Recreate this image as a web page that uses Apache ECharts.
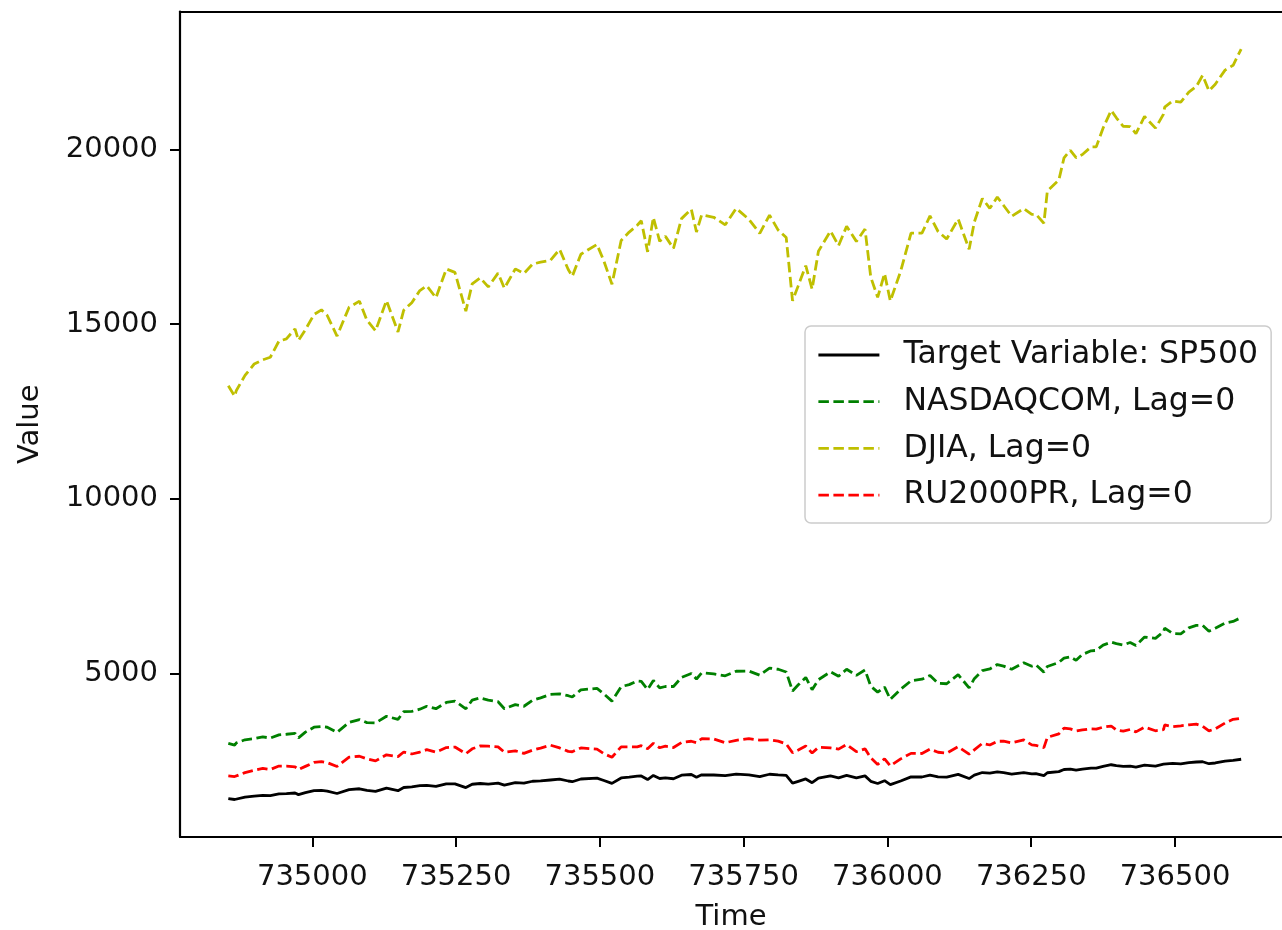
<!DOCTYPE html>
<html>
<head>
<meta charset="utf-8">
<script src="https://cdn.jsdelivr.net/npm/echarts@6/dist/echarts.min.js"></script>
<style>
  html, body { margin: 0; padding: 0; background: #ffffff; }
  #chart { width: 1282px; height: 930px; }
</style>
</head>
<body>
<div id="chart"></div>
<script>
// Time axis: day ordinals (days since 0001-01-01), Dec 2012 .. Oct 2017
const dates = [
  734854, 734865, 734868, 734883, 734899, 734914, 734927, 734942, 734955, 734970,
  734976, 734988, 735003, 735016, 735026, 735043, 735064, 735082, 735095, 735110,
  735129, 735149, 735159, 735173, 735187, 735199, 735215, 735233, 735248, 735267,
  735278, 735292, 735306, 735323, 735334, 735353, 735368, 735383, 735397, 735414,
  735430, 735445, 735452, 735467, 735495, 735507, 735521, 735537, 735551, 735565,
  735572, 735583, 735593, 735604, 735614, 735628, 735642, 735659, 735668, 735677,
  735698, 735718, 735737, 735759, 735778, 735795, 735810, 735824, 735835, 735845,
  735858, 735869, 735880, 735901, 735915, 735929, 735946, 735961, 735971, 735983,
  735995, 736005, 736023, 736041, 736060, 736074, 736088, 736103, 736123, 736142,
  736151, 736165, 736178, 736191, 736202, 736216, 736237, 736251, 736258, 736272,
  736278, 736298, 736307, 736318, 736328, 736339, 736354, 736363, 736375, 736389,
  736398, 736410, 736422, 736432, 736447, 736466, 736480, 736482, 736496, 736510,
  736524, 736537, 736548, 736559, 736570, 736587, 736601, 736615
];

const sp500 = [
  1430, 1402, 1426, 1472, 1498, 1520, 1515, 1561, 1569, 1588,
  1541, 1597, 1658, 1660, 1643, 1573, 1682, 1709, 1661, 1633,
  1725, 1655, 1745, 1762, 1798, 1807, 1775, 1848, 1848, 1742,
  1838, 1859, 1841, 1872, 1815, 1884, 1870, 1924, 1936, 1960,
  1982, 1931, 1910, 1988, 2011, 1946, 1862, 2018, 2040, 2068,
  2075, 1973, 2089, 2003, 2019, 1995, 2097, 2117, 2040, 2108,
  2102, 2086, 2127, 2105, 2058, 2124, 2104, 2092, 1868, 1921,
  1990, 1882, 2015, 2079, 2023, 2090, 2022, 2078, 1922, 1859,
  1940, 1829, 1932, 2049, 2045, 2102, 2051, 2040, 2119, 2001,
  2100, 2173, 2157, 2190, 2169, 2128, 2168, 2133, 2141, 2085,
  2167, 2199, 2260, 2270, 2239, 2269, 2298, 2297, 2349, 2396,
  2372, 2348, 2358, 2329, 2384, 2357, 2412, 2439, 2433, 2423,
  2459, 2475, 2481, 2425, 2446, 2500, 2519, 2553
];

const nasdaq = [
  3010, 2960, 3020, 3110, 3142, 3192, 3160, 3249, 3268, 3294,
  3166, 3329, 3471, 3488, 3469, 3320, 3607, 3689, 3602, 3590,
  3783, 3694, 3914, 3922, 3985, 4069, 4000, 4177, 4215, 3997,
  4244, 4308, 4246, 4199, 3999, 4115, 4069, 4243, 4311, 4408,
  4425, 4370, 4334, 4539, 4580, 4423, 4215, 4631, 4688, 4792,
  4781, 4547, 4807, 4593, 4634, 4635, 4893, 5008, 4849, 5026,
  4996, 4941, 5070, 5076, 4958, 5163, 5128, 5048, 4506, 4683,
  4893, 4543, 4830, 5054, 4927, 5127, 4952, 5107, 4644, 4472,
  4620, 4267, 4558, 4796, 4843, 4948, 4725, 4713, 4974, 4594,
  4859, 5089, 5137, 5262, 5218, 5126, 5312, 5214, 5257, 5046,
  5208, 5323, 5445, 5483, 5383, 5551, 5656, 5666, 5819, 5904,
  5861, 5821, 5894, 5805, 6048, 6011, 6199, 6306, 6151, 6140,
  6312, 6382, 6383, 6217, 6302, 6448, 6496, 6606
];

const djia = [
  13235, 12938, 13104, 13534, 13860, 13981, 14054, 14514, 14578, 14865,
  14537, 14840, 15275, 15409, 15248, 14660, 15484, 15658, 15112, 14810,
  15676, 14776, 15400, 15615, 15961, 16097, 15755, 16577, 16481, 15373,
  16154, 16322, 16066, 16458, 16027, 16581, 16447, 16717, 16776, 16827,
  17138, 16563, 16368, 17001, 17280, 16804, 16142, 17391, 17634, 17828,
  17958, 17068, 18053, 17371, 17511, 17165, 18019, 18288, 17635, 18128,
  18057, 17841, 18312, 18000, 17596, 18120, 17690, 17477, 15666, 16102,
  16674, 16001, 17084, 17664, 17245, 17798, 17368, 17720, 16346, 15766,
  16449, 15660, 16516, 17602, 17603, 18096, 17651, 17435, 18005, 17140,
  17918, 18595, 18313, 18636, 18395, 18085, 18308, 18138, 18145, 17888,
  18807, 19124, 19757, 19974, 19763, 19855, 20069, 20071, 20612, 21116,
  20903, 20661, 20650, 20453, 20941, 20607, 21009, 21206, 21384, 21350,
  21638, 21797, 22118, 21675, 21865, 22268, 22405, 22871
];

const ru2000 = [
  2078, 2058, 2106, 2172, 2237, 2292, 2259, 2358, 2358, 2336,
  2257, 2349, 2463, 2487, 2455, 2346, 2611, 2639, 2567, 2507,
  2681, 2629, 2760, 2703, 2760, 2827, 2758, 2887, 2902, 2711,
  2852, 2934, 2926, 2909, 2755, 2795, 2721, 2812, 2874, 2956,
  2877, 2778, 2768, 2877, 2842, 2711, 2611, 2909, 2909, 2909,
  2941, 2854, 3008, 2882, 2926, 2889, 3033, 3068, 3026, 3140,
  3135, 3026, 3095, 3145, 3098, 3110, 3070, 2993, 2738, 2817,
  2931, 2730, 2894, 2879, 2842, 2974, 2768, 2852, 2594, 2406,
  2567, 2363, 2564, 2721, 2718, 2842, 2753, 2730, 2912, 2701,
  2822, 3008, 2961, 3068, 3070, 3023, 3105, 2964, 2951, 2887,
  3179, 3279, 3445, 3422, 3365, 3393, 3422, 3415, 3472, 3504,
  3388, 3355, 3405, 3336, 3472, 3368, 3398, 3534, 3487, 3509,
  3539, 3556, 3499, 3365, 3422, 3589, 3695, 3727
];

const xTicks = [735000, 735250, 735500, 735750, 736000, 736250, 736500];
const yTicks = [5000, 10000, 15000, 20000];

const names = {
  sp500: 'Target Variable: SP500',
  nasdaq: 'NASDAQCOM, Lag=0',
  djia: 'DJIA, Lag=0',
  ru2000: 'RU2000PR, Lag=0'
};

const FONT = 'DejaVu Sans';
const FS = 29;
const LEGEND_FS = 31.5;
const INK = '#111111';
const DASH = [10.5, 4.5];
const SPINE = { color: '#000000', width: 2.2 };

function pairs(values) {
  return dates.map((d, i) => [d, values[i]]);
}

function lineSeries(name, values, color, dashed, z) {
  return {
    name: name,
    type: 'line',
    data: pairs(values),
    symbol: 'none',
    showSymbol: false,
    smooth: false,
    z: z,
    lineStyle: { color: color, width: 2.8, type: dashed ? DASH : 'solid' },
    itemStyle: { color: color },
    emphasis: { disabled: true }
  };
}

const chart = echarts.init(document.getElementById('chart'), null, { renderer: 'canvas' });

chart.setOption({
  animation: false,
  backgroundColor: '#ffffff',
  grid: {
    show: false,
    left: 180,
    top: 11.5,
    right: 0,
    height: 825.5,
    outerBoundsMode: 'none',
    containLabel: false
  },
  xAxis: [
    {
      type: 'value',
      position: 'bottom',
      min: 734770,
      max: 736686,
      name: 'Time',
      nameLocation: 'middle',
      nameGap: 66,
      nameTextStyle: { fontFamily: FONT, fontSize: FS, color: INK },
      axisLine: { show: true, onZero: false, lineStyle: SPINE },
      axisTick: { show: true, inside: false, length: 10, customValues: xTicks, lineStyle: { color: '#000000', width: 2 } },
      axisLabel: { customValues: xTicks, margin: 26, fontFamily: FONT, fontSize: FS, color: INK, formatter: v => String(v) },
      splitLine: { show: false }
    },
    {
      // top spine of the frame
      type: 'value',
      position: 'top',
      min: 734770,
      max: 736686,
      axisLine: { show: true, onZero: false, lineStyle: SPINE },
      axisTick: { show: false },
      axisLabel: { show: false },
      splitLine: { show: false }
    }
  ],
  yAxis: {
    type: 'value',
    min: 329,
    max: 23944,
    name: 'Value',
    nameLocation: 'middle',
    nameRotate: 90,
    nameGap: 135,
    nameTextStyle: { fontFamily: FONT, fontSize: FS, color: INK },
    axisLine: { show: true, onZero: false, lineStyle: SPINE },
    axisTick: { show: true, inside: false, length: 10, customValues: yTicks, lineStyle: { color: '#000000', width: 2 } },
    axisLabel: { customValues: yTicks, margin: 22, fontFamily: FONT, fontSize: FS, color: INK, formatter: v => String(v) },
    splitLine: { show: false }
  },
  legend: {
    orient: 'vertical',
    left: 805,
    top: 326,
    padding: [13, 13, 12, 12],
    itemWidth: 61,
    itemHeight: 20,
    itemGap: 14.7,
    backgroundColor: 'rgba(255,255,255,0.8)',
    borderColor: '#cccccc',
    borderWidth: 1.5,
    borderRadius: 6,
    itemStyle: { opacity: 0 },
    lineStyle: { width: 2.8 },
    textStyle: { fontFamily: FONT, fontSize: LEGEND_FS, color: INK, lineHeight: 32, padding: [0, 0, 0, 19] },
    data: [names.sp500, names.nasdaq, names.djia, names.ru2000]
  },
  series: [
    lineSeries(names.sp500, sp500, '#000000', false, 2),
    lineSeries(names.nasdaq, nasdaq, '#008000', true, 3),
    lineSeries(names.djia, djia, '#bfbf00', true, 4),
    lineSeries(names.ru2000, ru2000, '#ff0000', true, 5)
  ]
});
</script>
</body>
</html>
